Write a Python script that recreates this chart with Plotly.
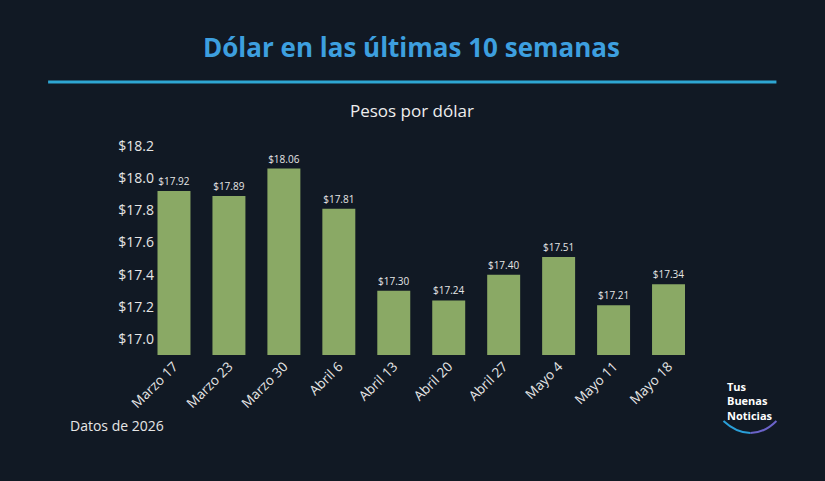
import plotly.graph_objects as go

categories = ["Marzo 17", "Marzo 23", "Marzo 30", "Abril 6", "Abril 13",
              "Abril 20", "Abril 27", "Mayo 4", "Mayo 11", "Mayo 18"]
values = [17.92, 17.89, 18.06, 17.81, 17.30, 17.24, 17.40, 17.51, 17.21, 17.34]
y_ticks = [17.0, 17.2, 17.4, 17.6, 17.8, 18.0, 18.2]
y_tick_labels = ["$17.0", "$17.2", "$17.4", "$17.6", "$17.8", "$18.0", "$18.2"]
logo_lines = ["Tus", "Buenas", "Noticias"]

W, H = 825, 481
L, R, T, B = 155, 128.5, 140, 126
PW, PH = W - L - R, H - T - B
BG = "#111924"
FONT = "Open Sans"


def px(x):
    return (x - L) / PW


def py(y):
    return (H - B - y) / PH


fig = go.Figure()
fig.add_trace(go.Bar(
    x=categories,
    y=values,
    marker=dict(color="#8aa965", line=dict(width=0)),
    text=[f"${v:.2f}" for v in values],
    textposition="outside",
    textfont=dict(size=10, color="#e6e6e6", family=FONT),
    cliponaxis=False,
    hoverinfo="skip",
))

shapes = [
    dict(type="line", xref="paper", yref="paper",
         x0=px(48), x1=px(777), y0=py(82), y1=py(82),
         line=dict(color="#2ea6d2", width=3)),
    dict(type="path", xref="paper", yref="paper",
         path=f"M {px(724)},{py(421)} Q {px(737)},{py(433)} {px(751)},{py(433)}",
         line=dict(color="#2a9fd8", width=2)),
    dict(type="path", xref="paper", yref="paper",
         path=f"M {px(751)},{py(433)} Q {px(765)},{py(433)} {px(777)},{py(421)}",
         line=dict(color="#6b63c9", width=2)),
]

annotations = [
    dict(text="<b>Dólar en las últimas 10 semanas</b>", xref="paper", yref="paper",
         x=px(412), y=py(47), xanchor="center", yanchor="middle", showarrow=False,
         font=dict(size=26, color="#3d9fdf", family=FONT)),
    dict(text="Pesos por dólar", xref="paper", yref="paper",
         x=px(412), y=py(110), xanchor="center", yanchor="middle", showarrow=False,
         font=dict(size=17, color="#eeeeee", family=FONT)),
    dict(text="Datos de 2026", xref="paper", yref="paper",
         x=px(68), y=py(425), xanchor="left", yanchor="middle", showarrow=False,
         font=dict(size=14, color="#e6e6e6", family=FONT)),
    dict(text="<br>".join(f"<b>{s}</b>" for s in logo_lines),
         xref="paper", yref="paper", align="left",
         x=px(726), y=py(401), xanchor="left", yanchor="middle",
         showarrow=False, font=dict(size=11, color="#ffffff", family=FONT)),
]

fig.update_layout(
    width=W, height=H,
    margin=dict(l=L, r=R, t=T, b=B, autoexpand=False),
    paper_bgcolor=BG, plot_bgcolor=BG,
    showlegend=False,
    bargap=0.4,
    shapes=shapes,
    annotations=annotations,
    font=dict(family=FONT, color="#e6e6e6"),
    xaxis=dict(
        range=[-(174 - L) / 55, 9.5],
        tickangle=-45,
        showgrid=False, zeroline=False, showline=False, ticks="",
        tickfont=dict(size=13.5, color="#e6e6e6", family=FONT),
        fixedrange=True,
    ),
    yaxis=dict(
        range=[16.9005, 18.2376],
        tickmode="array", tickvals=y_ticks, ticktext=y_tick_labels,
        showgrid=False, zeroline=False, showline=False, ticks="",
        tickfont=dict(size=14, color="#e6e6e6", family=FONT),
        fixedrange=True,
    ),
)

fig.write_html("out.html", config={"displayModeBar": False})
